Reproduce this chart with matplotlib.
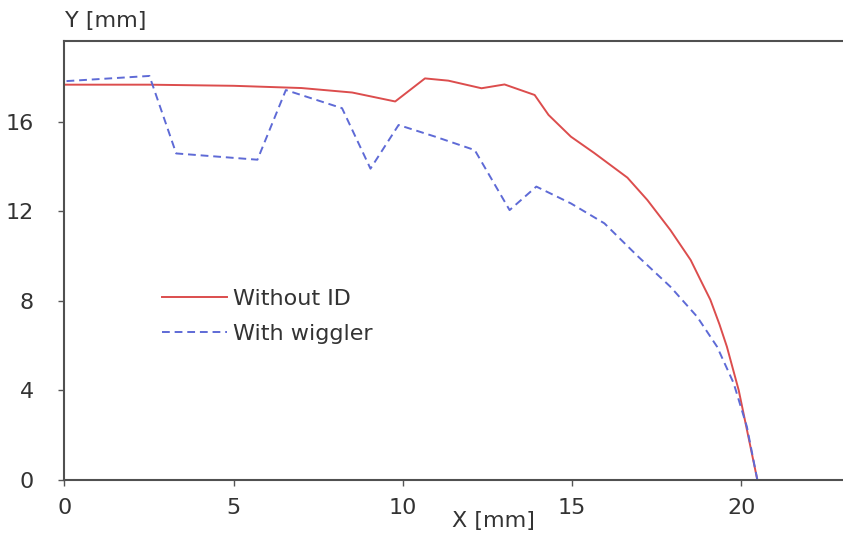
import matplotlib.pyplot as plt

plt.rcParams['font.family'] = ['DejaVu Sans']

# Without ID (red solid)
x_noid = [0.0, 2.5, 5.0, 7.0, 8.5, 9.77, 10.65, 11.34, 12.32, 13.0, 13.89,
          14.3, 14.96, 15.65, 16.63, 17.22, 17.9, 18.5, 18.8, 19.08, 19.35,
          19.57, 19.92, 20.47]
y_noid = [17.65, 17.65, 17.6, 17.5, 17.3, 16.9, 17.93, 17.83, 17.49, 17.66,
          17.19, 16.3, 15.33, 14.6, 13.5, 12.5, 11.16, 9.82, 8.9, 8.05, 6.95,
          5.95, 4.0, 0.0]

# With wiggler (blue dashed)
x_wig = [0.06, 2.51, 3.3, 5.7, 6.54, 8.2, 9.04, 9.87, 10.95, 12.12, 13.15,
         13.94, 14.96, 15.95, 16.93, 17.9, 18.69, 19.28, 19.77, 20.16, 20.47]
y_wig = [17.81, 18.04, 14.58, 14.3, 17.41, 16.6, 13.9, 15.85, 15.33, 14.73,
         12.05, 13.1, 12.35, 11.46, 10.0, 8.63, 7.29, 5.95, 4.32, 2.38, 0.0]

xticks = [0, 5, 10, 15, 20]
yticks = [0, 4, 8, 12, 16]

fig = plt.figure(figsize=(8.43, 5.36), dpi=100)
ax = fig.add_axes([0.0765, 0.1045, 0.9235, 0.819])

ax.plot(x_noid, y_noid, color='#dc4d4d', lw=1.4, label='Without ID')
ax.plot(x_wig, y_wig, color='#5e6ad6', lw=1.4, ls=(0, (4, 2.5)), label='With wiggler')

ax.set_xlim(0, 23)
ax.set_ylim(0, 19.6)
ax.set_xticks(xticks)
ax.set_yticks(yticks)
ax.tick_params(labelsize=16, length=4, width=1, color='#555555', labelcolor='#333333')
ax.tick_params(axis='y', pad=18)
ax.tick_params(axis='x', pad=9)

for s in ['left', 'bottom', 'top']:
    ax.spines[s].set_color('#505050')
    ax.spines[s].set_linewidth(1.5)
ax.spines['right'].set_visible(False)

ax.legend(loc='upper left', bbox_to_anchor=(0.1, 0.48), frameon=False,
          fontsize=16, handlelength=2.9, handletextpad=0.3, labelspacing=0.65,
          labelcolor='#333333')

fig.text(0.077, 0.96, 'Y [mm]', fontsize=16, color='#333333', ha='left', va='center')
fig.text(0.585, 0.028, 'X [mm]', fontsize=16, color='#333333', ha='center', va='center')

fig.savefig('out.png', dpi=100)
